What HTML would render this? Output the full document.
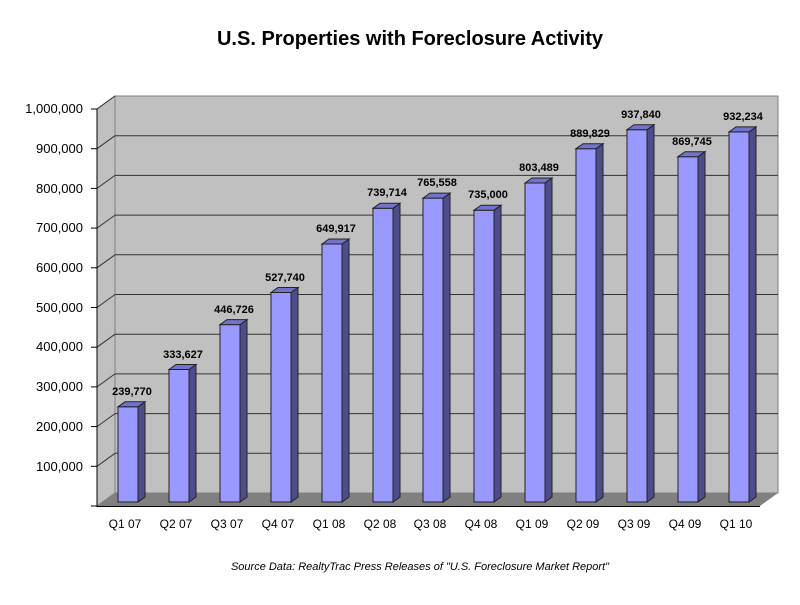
<!DOCTYPE html>
<html><head><style>body{margin:0;background:#fff}</style></head><body>
<svg width="800" height="600" xmlns="http://www.w3.org/2000/svg" font-family="Liberation Sans, Arial, sans-serif">
<rect width="800" height="600" fill="#fff"/>
<text x="410" y="45" text-anchor="middle" font-size="20" font-weight="bold">U.S. Properties with Foreclosure Activity</text>
<polygon points="97,109 115,96 115,493 97,506" fill="#c0c0c0" stroke="#808080"/>
<rect x="115" y="96" width="663" height="397" fill="#c0c0c0" stroke="#808080"/>
<polygon points="97,506 115,493 778,493 760,506" fill="#808080"/>
<g stroke="#333" stroke-width="1">
<line x1="115" y1="135.7" x2="778" y2="135.7"/><line x1="115" y1="175.4" x2="778" y2="175.4"/>
<line x1="115" y1="215.1" x2="778" y2="215.1"/><line x1="115" y1="254.8" x2="778" y2="254.8"/>
<line x1="115" y1="294.5" x2="778" y2="294.5"/><line x1="115" y1="334.2" x2="778" y2="334.2"/>
<line x1="115" y1="373.9" x2="778" y2="373.9"/><line x1="115" y1="413.6" x2="778" y2="413.6"/>
<line x1="115" y1="453.3" x2="778" y2="453.3"/>
<line x1="97" y1="148.7" x2="115" y2="135.7"/><line x1="97" y1="188.4" x2="115" y2="175.4"/>
<line x1="97" y1="228.1" x2="115" y2="215.1"/><line x1="97" y1="267.8" x2="115" y2="254.8"/>
<line x1="97" y1="307.5" x2="115" y2="294.5"/><line x1="97" y1="347.2" x2="115" y2="334.2"/>
<line x1="97" y1="386.9" x2="115" y2="373.9"/><line x1="97" y1="426.6" x2="115" y2="413.6"/>
<line x1="97" y1="466.3" x2="115" y2="453.3"/>
<line x1="97" y1="109" x2="115" y2="96"/>
</g>
<line x1="97" y1="109" x2="97" y2="507" stroke="#000"/>
<line x1="97" y1="506.5" x2="760" y2="506.5" stroke="#000"/>
<g stroke="#000">
<line x1="91" y1="109" x2="97" y2="109"/><line x1="91" y1="148.7" x2="97" y2="148.7"/><line x1="91" y1="188.4" x2="97" y2="188.4"/><line x1="91" y1="228.1" x2="97" y2="228.1"/><line x1="91" y1="267.8" x2="97" y2="267.8"/><line x1="91" y1="307.5" x2="97" y2="307.5"/><line x1="91" y1="347.2" x2="97" y2="347.2"/><line x1="91" y1="386.9" x2="97" y2="386.9"/><line x1="91" y1="426.6" x2="97" y2="426.6"/><line x1="91" y1="466.3" x2="97" y2="466.3"/><line x1="91" y1="506" x2="97" y2="506"/>
</g>
<g font-size="13" text-anchor="end">
<text x="83" y="113">1,000,000</text><text x="83" y="153">900,000</text><text x="83" y="193">800,000</text><text x="83" y="232">700,000</text><text x="83" y="272">600,000</text><text x="83" y="312">500,000</text><text x="83" y="351">400,000</text><text x="83" y="391">300,000</text><text x="83" y="431">200,000</text><text x="83" y="471">100,000</text>
</g>
<g stroke="#222" stroke-width="1">
<g transform="translate(118,406.8)"><rect width="20" height="95.2" fill="#9999ff"/><polygon points="20,0 27,-5 27,90.2 20,95.2" fill="#4d4d8c"/><polygon points="0,0 7,-5 27,-5 20,0" fill="#7373cc"/></g>
<g transform="translate(169,369.5)"><rect width="20" height="132.5" fill="#9999ff"/><polygon points="20,0 27,-5 27,127.5 20,132.5" fill="#4d4d8c"/><polygon points="0,0 7,-5 27,-5 20,0" fill="#7373cc"/></g>
<g transform="translate(220,324.6)"><rect width="20" height="177.4" fill="#9999ff"/><polygon points="20,0 27,-5 27,172.4 20,177.4" fill="#4d4d8c"/><polygon points="0,0 7,-5 27,-5 20,0" fill="#7373cc"/></g>
<g transform="translate(271,292.5)"><rect width="20" height="209.5" fill="#9999ff"/><polygon points="20,0 27,-5 27,204.5 20,209.5" fill="#4d4d8c"/><polygon points="0,0 7,-5 27,-5 20,0" fill="#7373cc"/></g>
<g transform="translate(322,244)"><rect width="20" height="258" fill="#9999ff"/><polygon points="20,0 27,-5 27,253 20,258" fill="#4d4d8c"/><polygon points="0,0 7,-5 27,-5 20,0" fill="#7373cc"/></g>
<g transform="translate(373,208.3)"><rect width="20" height="293.7" fill="#9999ff"/><polygon points="20,0 27,-5 27,288.7 20,293.7" fill="#4d4d8c"/><polygon points="0,0 7,-5 27,-5 20,0" fill="#7373cc"/></g>
<g transform="translate(423,198.1)"><rect width="20" height="303.9" fill="#9999ff"/><polygon points="20,0 27,-5 27,298.9 20,303.9" fill="#4d4d8c"/><polygon points="0,0 7,-5 27,-5 20,0" fill="#7373cc"/></g>
<g transform="translate(474,210.2)"><rect width="20" height="291.8" fill="#9999ff"/><polygon points="20,0 27,-5 27,286.8 20,291.8" fill="#4d4d8c"/><polygon points="0,0 7,-5 27,-5 20,0" fill="#7373cc"/></g>
<g transform="translate(525,183)"><rect width="20" height="319" fill="#9999ff"/><polygon points="20,0 27,-5 27,314 20,319" fill="#4d4d8c"/><polygon points="0,0 7,-5 27,-5 20,0" fill="#7373cc"/></g>
<g transform="translate(576,148.7)"><rect width="20" height="353.3" fill="#9999ff"/><polygon points="20,0 27,-5 27,348.3 20,353.3" fill="#4d4d8c"/><polygon points="0,0 7,-5 27,-5 20,0" fill="#7373cc"/></g>
<g transform="translate(627,129.7)"><rect width="20" height="372.3" fill="#9999ff"/><polygon points="20,0 27,-5 27,367.3 20,372.3" fill="#4d4d8c"/><polygon points="0,0 7,-5 27,-5 20,0" fill="#7373cc"/></g>
<g transform="translate(678,156.7)"><rect width="20" height="345.3" fill="#9999ff"/><polygon points="20,0 27,-5 27,340.3 20,345.3" fill="#4d4d8c"/><polygon points="0,0 7,-5 27,-5 20,0" fill="#7373cc"/></g>
<g transform="translate(729,131.9)"><rect width="20" height="370.1" fill="#9999ff"/><polygon points="20,0 27,-5 27,365.1 20,370.1" fill="#4d4d8c"/><polygon points="0,0 7,-5 27,-5 20,0" fill="#7373cc"/></g>
</g>
<g font-size="11" font-weight="bold" text-anchor="middle">
<text x="132" y="395">239,770</text><text x="183" y="358">333,627</text><text x="234" y="313">446,726</text><text x="285" y="281">527,740</text><text x="336" y="232">649,917</text><text x="387" y="196">739,714</text><text x="437" y="186">765,558</text><text x="488" y="198">735,000</text><text x="539" y="171">803,489</text><text x="590" y="137">889,829</text><text x="641" y="118">937,840</text><text x="692" y="145">869,745</text><text x="743" y="120">932,234</text>
</g>
<g font-size="12" text-anchor="middle">
<text x="125" y="528">Q1 07</text><text x="176" y="528">Q2 07</text><text x="227" y="528">Q3 07</text><text x="278" y="528">Q4 07</text><text x="329" y="528">Q1 08</text><text x="380" y="528">Q2 08</text><text x="430" y="528">Q3 08</text><text x="481" y="528">Q4 08</text><text x="532" y="528">Q1 09</text><text x="583" y="528">Q2 09</text><text x="634" y="528">Q3 09</text><text x="685" y="528">Q4 09</text><text x="736" y="528">Q1 10</text>
</g>
<text x="420" y="570" text-anchor="middle" font-size="11" font-style="italic">Source Data: RealtyTrac Press Releases of "U.S. Foreclosure Market Report"</text>
</svg>
</body></html>
